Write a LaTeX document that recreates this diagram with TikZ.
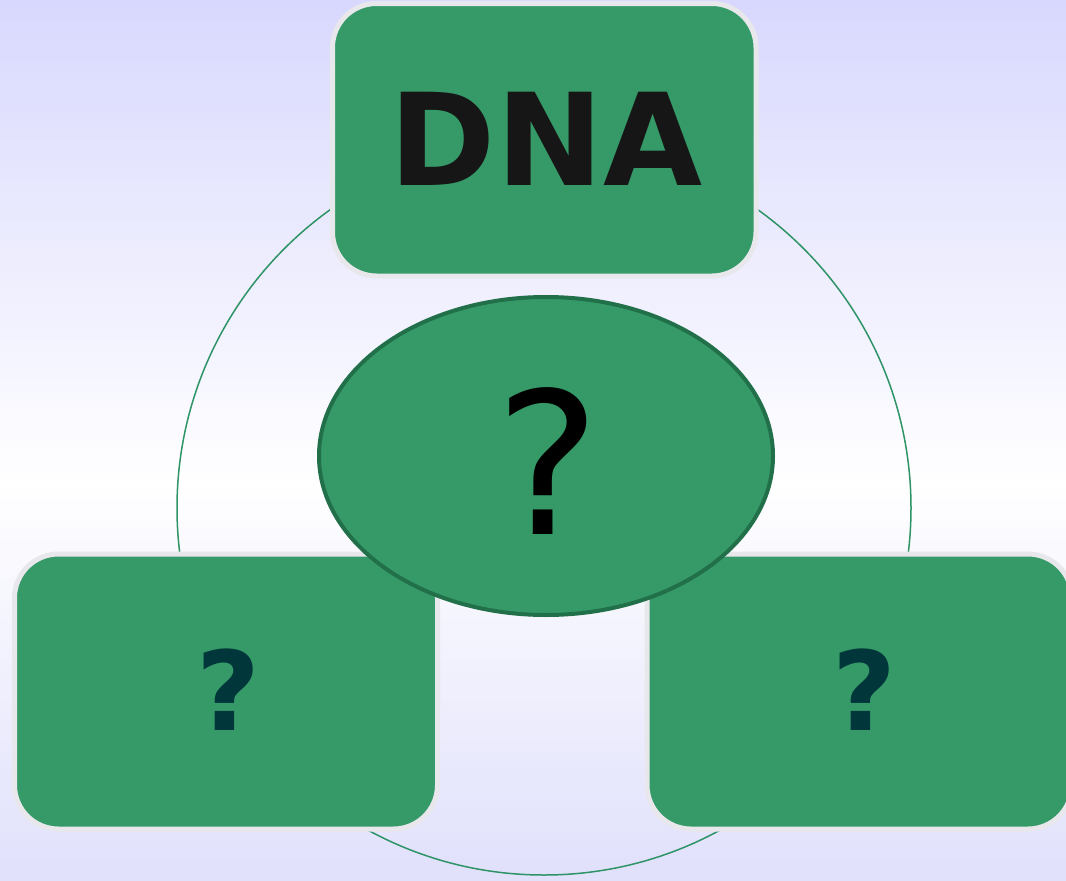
\documentclass[tikz,border=0pt]{standalone}
\usepackage{fontspec}
\setmainfont{DejaVu Sans}
\usetikzlibrary{shapes.geometric}
\definecolor{boxgreen}{HTML}{359A68}
\definecolor{ringgreen}{HTML}{2E9466}
\definecolor{ellborder}{HTML}{22704A}
\definecolor{boxedge}{HTML}{E8E8EC}
\definecolor{qdark}{HTML}{01363A}
\definecolor{dnatext}{HTML}{161616}
\definecolor{bgtop}{HTML}{D8D8FE}
\definecolor{bgbot}{HTML}{E0E0FC}
\tikzset{
  greenbox/.style={draw=boxedge, line width=5pt, fill=boxgreen, rounded corners=44pt},
  ring/.style={draw=ringgreen, line width=1.5pt},
  qsmall/.style={text=qdark, font=\bfseries\fontsize{110}{110}\selectfont, inner sep=0pt},
}
\begin{document}
\begin{tikzpicture}[x=1pt,y=-1pt]
\foreach \i in {0,...,47}{
  \pgfmathtruncatemacro{\p}{100-\i*100/48}
  \fill[bgtop!\p!white] (0,\i*10) rectangle (1066,\i*10+10.5);
}
\foreach \i in {48,...,87}{
  \pgfmathtruncatemacro{\p}{min(100,(\i*10-480)/3.97)}
  \fill[bgbot!\p!white] (0,\i*10) rectangle (1066,\i*10+10.5);
}
\useasboundingbox (0,0) rectangle (1066,877);
\node[circle, ring, minimum size=734pt, inner sep=0pt] (ring) at (544,508) {};
\draw[greenbox] (332.5,3.5) rectangle (756,276);
\node[text=dnatext, font=\bfseries\fontsize{128}{128}\selectfont, inner sep=0pt] (dna) at (546,139) {DNA};
\draw[greenbox] (14.5,554) rectangle (437.5,829);
\node[qsmall] (qleft) at (228,690) {?};
\draw[greenbox] (647,554) rectangle (1072,829);
\node[qsmall] (qright) at (864,690) {?};
\node[ellipse, draw=ellborder, line width=4pt, fill=boxgreen, minimum width=454pt, minimum height=318pt, inner sep=0pt] (center) at (546,456) {};
\node[font=\fontsize{198}{198}\selectfont, inner sep=0pt] (q) at (548,461) {?};
\end{tikzpicture}
\end{document}
